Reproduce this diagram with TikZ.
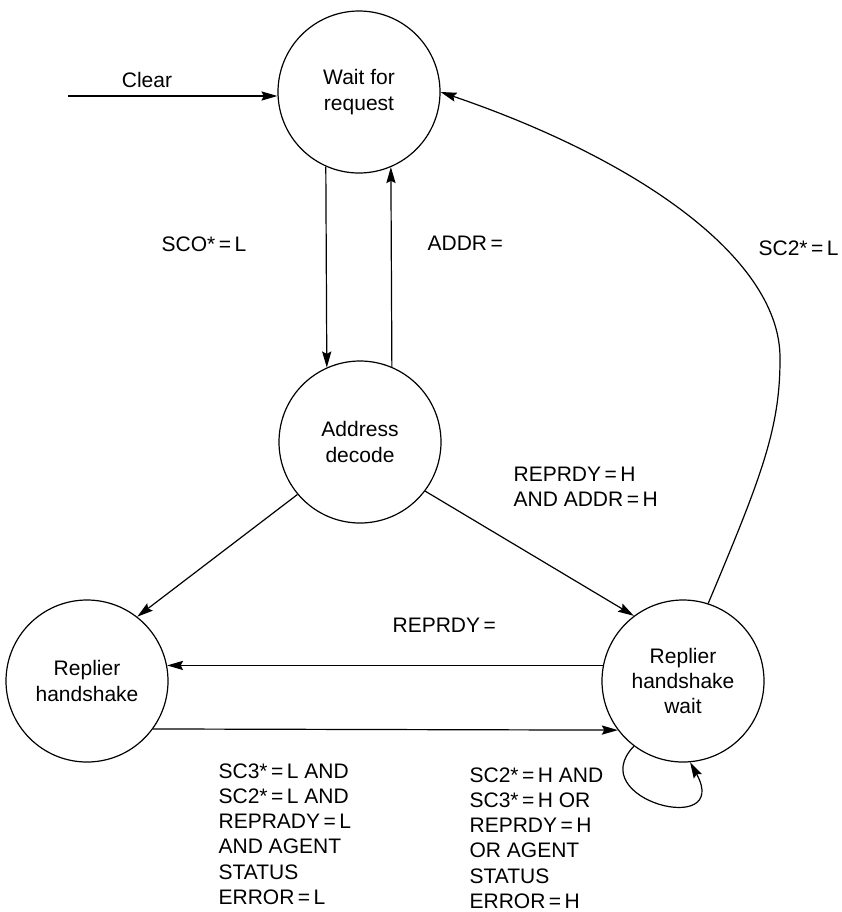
\documentclass[tikz,border=0pt]{standalone}
\usepackage{fontspec}
\setmainfont{Liberation Sans}
\usepackage{tikz}
\usetikzlibrary{arrows.meta,positioning}

\begin{document}
\begin{tikzpicture}[x=0.5pt,y=-0.5pt,>={Stealth[length=8pt,width=4.6pt,inset=1.2pt]},
    line width=0.6pt,font=\fontsize{10.5}{12.6}\selectfont,
    statenode/.style={circle,draw,minimum size=81pt,inner sep=0pt,align=center},
    cond/.style={align=left,inner sep=0pt,anchor=west}]
    \useasboundingbox (0,0) rectangle (842,912);
    % states
    \node[statenode] (wait) at (359,92)  {Wait for\\request};
    \node[statenode] (addr) at (360,442) {Address\\decode};
    \node[statenode] (rh)   at (87,681)  {Replier\\handshake};
    \node[statenode] (rhw)  at (683,681) {Replier\\handshake\\wait};
    % reset
    \coordinate (clr) at (68,96);
    \draw[->] (clr) -- (clr -| wait.west);
    \node (clrlbl) at (147,80) {Clear};
    % transitions
    \draw[->] (wait.-114) -- (addr.114);
    \draw[->] (addr.67) -- (wait.-67);
    \draw[->] (addr.220) -- (rh.52);
    \draw[->] (addr.-37) -- (rhw.127);
    \draw[->] (rhw.169) -- (rh.11);
    \draw[->] (rh.-36) -- (rhw.-143);
    \draw[->] (rhw.-127) .. controls (582,800) and (732,838) .. (rhw.-85);
    \draw[->] (rhw.72) .. controls (760,480) and (780,430) .. (780,360)
                       .. controls (782,260) and (640,160) .. (wait.east);
    % conditions
    \node (sco)   at (204,244) {SCO*\,=\,L};
    \node[cond] (addrc) at (427,243) {ADDR\,=};
    \node[cond] (sctwo) at (758,248) {SC2*\,=\,L};
    \node[cond] (rdyh)  at (513,487) {REPRDY\,=\,H\\AND ADDR\,=\,H};
    \node[cond] (rdy)   at (392,625) {REPRDY\,=};
    \node[cond] (errl)  at (218,834) {SC3*\,=\,L AND\\SC2*\,=\,L AND\\REPRADY\,=\,L\\AND AGENT\\STATUS\\ERROR\,=\,L};
    \node[cond] (errh)  at (469,838) {SC2*\,=\,H AND\\SC3*\,=\,H OR\\REPRDY\,=\,H\\OR AGENT\\STATUS\\ERROR\,=\,H};
\end{tikzpicture}
\end{document}
